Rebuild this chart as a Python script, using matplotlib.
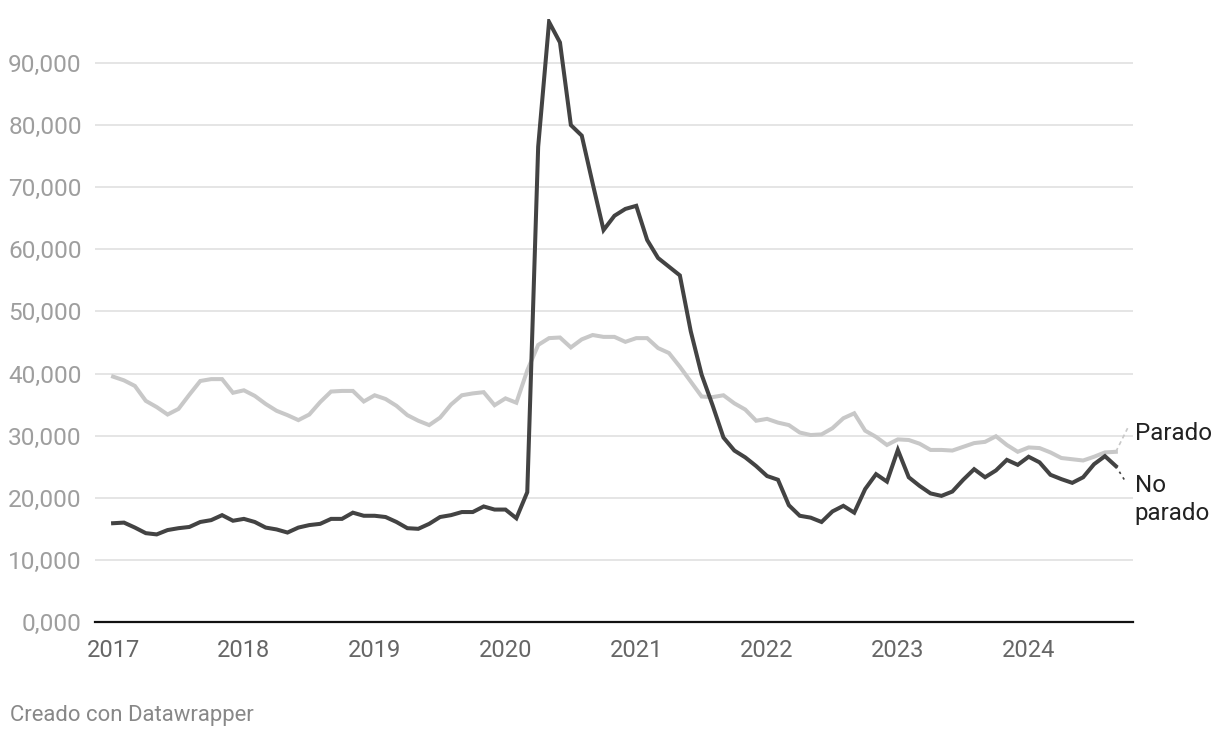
import matplotlib

matplotlib.use("Agg")
import matplotlib.pyplot as plt  # noqa: E402
import numpy as np  # noqa: E402

# monthly values, Jan 2017 .. Sep 2024 (thousands)
START_YEAR = 2017
PARADO = [
    39.5, 38.9, 38.0, 35.6, 34.6, 33.4, 34.3, 36.6, 38.8, 39.1, 39.1, 36.9,
    37.3, 36.4, 35.1, 34.0, 33.3, 32.5, 33.4, 35.4, 37.1, 37.2, 37.2, 35.5,
    36.5, 35.9, 34.8, 33.3, 32.4, 31.7, 32.9, 35.0, 36.5, 36.8, 37.0, 34.9,
    36.0, 35.3, 40.5, 44.6, 45.7, 45.8, 44.2, 45.5, 46.2, 45.9, 45.9, 45.1,
    45.7, 45.7, 44.1, 43.3, 41.1, 38.7, 36.3, 36.2, 36.5, 35.2, 34.2, 32.4,
    32.7, 32.1, 31.7, 30.5, 30.1, 30.2, 31.2, 32.8, 33.6, 30.8, 29.8, 28.5,
    29.4, 29.3, 28.7, 27.7, 27.7, 27.6, 28.2, 28.8, 29.0, 29.9, 28.5, 27.4,
    28.1, 28.0, 27.3, 26.4, 26.2, 26.0, 26.6, 27.3, 27.4,
]
NO_PARADO = [
    15.9, 16.0, 15.2, 14.3, 14.1, 14.8, 15.1, 15.3, 16.1, 16.4, 17.2, 16.3,
    16.6, 16.1, 15.2, 14.9, 14.4, 15.2, 15.6, 15.8, 16.6, 16.6, 17.6, 17.1,
    17.1, 16.9, 16.1, 15.1, 15.0, 15.8, 16.9, 17.2, 17.7, 17.7, 18.6, 18.1,
    18.1, 16.7, 20.9, 76.5, 96.6, 93.3, 80.0, 78.3, 70.6, 63.1, 65.4, 66.5,
    67.0, 61.5, 58.6, 57.2, 55.8, 46.8, 39.8, 34.9, 29.7, 27.6, 26.5, 25.1,
    23.5, 22.9, 18.8, 17.1, 16.8, 16.1, 17.8, 18.7, 17.6, 21.4, 23.8, 22.6,
    27.7, 23.3, 21.9, 20.7, 20.3, 21.0, 22.9, 24.6, 23.3, 24.4, 26.1, 25.3,
    26.6, 25.7, 23.7, 23.0, 22.4, 23.3, 25.4, 26.7, 25.1,
]
Y_TICKS = [0, 10000, 20000, 30000, 40000, 50000, 60000, 70000, 80000, 90000]
Y_LABELS = ["0,000", "10,000", "20,000", "30,000", "40,000",
            "50,000", "60,000", "70,000", "80,000", "90,000"]
X_YEARS = [2017, 2018, 2019, 2020, 2021, 2022, 2023, 2024]
SERIES_LABELS = ["Parado", "No\nparado"]

plt.rcParams["font.family"] = ["Roboto", "DejaVu Sans"]

parado = np.array(PARADO) * 1000
no_parado = np.array(NO_PARADO) * 1000
x = START_YEAR + np.arange(len(parado)) / 12.0

fig = plt.figure(figsize=(12.2, 7.38), dpi=100)
ax = fig.add_axes([0.0779, 0.1572, 0.8508, 0.8164])

ax.plot(x, parado, color="#c8c8c8", lw=2.9, solid_joinstyle="miter", zorder=3)
ax.plot(x, no_parado, color="#434343", lw=2.9, solid_joinstyle="miter", zorder=4)

ax.set_xlim(2016.862, 2024.798)
ax.set_ylim(0, 97000)

ax.set_yticks(Y_TICKS, Y_LABELS)
ax.set_xticks(X_YEARS, [str(y) for y in X_YEARS])
ax.tick_params(axis="y", length=0, pad=9.5, labelsize=17.6, labelcolor="#9e9e9e")
ax.tick_params(axis="x", length=0, pad=12.5, labelsize=17, labelcolor="#666666")
ax.grid(axis="y", color="#e3e3e3", lw=1.3, zorder=0)
ax.set_axisbelow(True)
for side in ("top", "right", "left"):
    ax.spines[side].set_visible(False)
ax.spines["bottom"].set_color("#111111")
ax.spines["bottom"].set_linewidth(1.6)
ax.spines["bottom"].set_zorder(5)

# line-end connectors and direct labels
x_end = x[-1]
ax.plot([x_end, x_end + 0.09], [parado[-1], parado[-1] + 3800], color="#c8c8c8",
        lw=1.2, ls=(0, (2.5, 2)), clip_on=False)
ax.plot([x_end, x_end + 0.08], [no_parado[-1], no_parado[-1] - 2700], color="#434343",
        lw=1.2, ls=(0, (1.5, 2.5)), clip_on=False)
ax.text(x_end + 0.145, parado[-1] + 2900, SERIES_LABELS[0], fontsize=17.4,
        color="#222222", va="center", ha="left", clip_on=False)
ax.text(x_end + 0.145, no_parado[-1] - 1200, SERIES_LABELS[1], fontsize=17.4,
        color="#222222", va="top", ha="left", linespacing=1.3, clip_on=False)

fig.text(10 / 1220, 1 - 716 / 738, "Creado con Datawrapper", fontsize=15.9,
         color="#888888", va="center", ha="left")

fig.savefig("out.png", dpi=100)
plt.close(fig)
